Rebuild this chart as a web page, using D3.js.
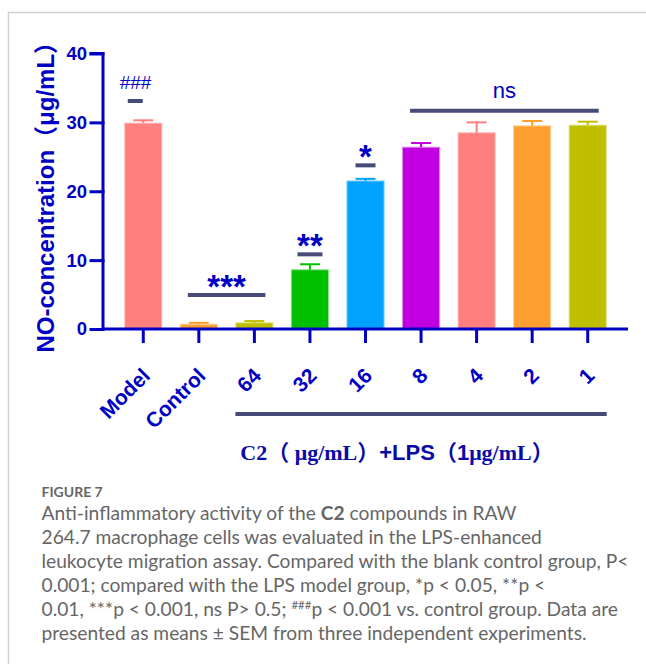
<!DOCTYPE html>
<html>
<head>
<meta charset="utf-8">
<script src="https://cdn.jsdelivr.net/npm/d3@7"></script>
<style>
  html, body { margin: 0; padding: 0; background: #fff; }
  svg { display: block; }
</style>
</head>
<body>
<svg id="chart" width="646" height="664"></svg>
<script>
// ---- data ----
const categories = ["Model", "Control", "64", "32", "16", "8", "4", "2", "1"];
const meanNO     = [29.9, 0.7, 0.9, 8.6, 21.5, 26.4, 28.5, 29.5, 29.6];
const semNO      = [0.4, 0.2, 0.25, 0.8, 0.3, 0.6, 1.5, 0.7, 0.5];
const barColors  = ["#ff7f7f", "#ff9e2e", "#bfbf00", "#00bf00", "#00a2ff", "#c000e0", "#ff7f7f", "#ff9f2f", "#bfbf00"];
const yTickValues = [0, 10, 20, 30, 40];

// significance annotations: text, first and last group covered, bar level (µg/mL)
const sigLabels = ["###", "***", "**", "*", "ns"];
const sigFrom   = ["Model", "Control", "32", "16", "8"];
const sigTo     = ["Model", "64", "32", "16", "1"];
const sigLevel  = [33.1, 4.93, 10.84, 23.76, 31.68];

const captionTitle = "FIGURE 7";
const captionLines = [
  [["Anti-inflammatory activity of the ", ""], ["C2", "b"], [" compounds in RAW", ""]],
  [["264.7 macrophage cells was evaluated in the LPS-enhanced", ""]],
  [["leukocyte migration assay. Compared with the blank control group, P<", ""]],
  [["0.001; compared with the LPS model group, *p < 0.05, **p <", ""]],
  [["0.01, ***p < 0.001, ns P> 0.5; ", ""], ["###", "sup"], ["p < 0.001 vs. control group. Data are", "down"]],
  [["presented as means ", ""], ["±", ""], [" SEM from three independent experiments.", ""]]
];

// ---- layout ----
const svg = d3.select("#chart");
const blue = "#0000c4";
const sigColor = "#474b78";
const sansBold = "'Liberation Sans', Arial, 'Noto Sans CJK SC', sans-serif";
const serifBold = "'Liberation Serif', 'Times New Roman', 'Noto Sans CJK SC', serif";

const x0 = 103, x1 = 628;
const x = d3.scaleBand().domain(categories).range([x0, x1])
  .paddingInner(0.33).paddingOuter(0.39);
const y = d3.scaleLinear().domain([0, 40]).range([329, 53.5]);
const cx = c => x(c) + x.bandwidth() / 2;

// panel frame
svg.append("path")
  .attr("d", "M8.5,664 V12.5 H646")
  .attr("fill", "none").attr("stroke", "#d2d2d2").attr("stroke-width", 1.5);

// bars
const g = svg.append("g");
g.selectAll("rect.bar").data(categories).join("rect")
  .attr("class", "bar")
  .attr("x", d => x(d))
  .attr("width", x.bandwidth())
  .attr("y", (d, i) => y(meanNO[i]))
  .attr("height", (d, i) => y(0) - y(meanNO[i]))
  .attr("fill", (d, i) => barColors[i])
  .attr("stroke", (d, i) => d3.interpolateRgb(barColors[i], "#ffffff")(0.55))
  .attr("stroke-width", 1);

// error bars (upper whisker)
const capHalf = 10;
const eb = g.selectAll("g.err").data(categories).join("g").attr("class", "err");
eb.append("line")
  .attr("x1", d => cx(d)).attr("x2", d => cx(d))
  .attr("y1", (d, i) => y(meanNO[i]))
  .attr("y2", (d, i) => y(meanNO[i] + semNO[i]))
  .attr("stroke", (d, i) => barColors[i]).attr("stroke-width", 2);
eb.append("line")
  .attr("x1", d => cx(d) - capHalf).attr("x2", d => cx(d) + capHalf)
  .attr("y1", (d, i) => y(meanNO[i] + semNO[i]))
  .attr("y2", (d, i) => y(meanNO[i] + semNO[i]))
  .attr("stroke", (d, i) => barColors[i]).attr("stroke-width", 2);

// axes
const yAxis = d3.axisLeft(y).tickValues(yTickValues).tickSize(12).tickPadding(4);
const yG = svg.append("g").attr("transform", `translate(${x0},0)`).call(yAxis);
yG.select(".domain").attr("d", `M-12,${y(40)}H0V${y(0)}`);
yG.selectAll(".domain, .tick line").attr("stroke", blue).attr("stroke-width", 3)
  .attr("stroke-linecap", "square");
yG.selectAll(".tick text")
  .attr("fill", blue).attr("font-family", sansBold)
  .attr("font-weight", "bold").attr("font-size", 18.5);

const xAxis = d3.axisBottom(x).tickSize(14).tickFormat("");
const xG = svg.append("g").attr("transform", `translate(0,${y(0)})`).call(xAxis);
xG.select(".domain").attr("d", `M${x0},0H${x1}`);
xG.selectAll(".domain, .tick line").attr("stroke", blue).attr("stroke-width", 3);

// rotated category labels
svg.append("g").selectAll("text").data(categories).join("text")
  .attr("transform", d => `translate(${cx(d) + 8},${y(0) + 48}) rotate(-45)`)
  .attr("text-anchor", "end")
  .attr("fill", blue).attr("font-family", sansBold)
  .attr("font-weight", "bold").attr("font-size", 21)
  .text(d => d);

// y-axis title
svg.append("text")
  .attr("transform", `translate(54,${(y(0) + y(40)) / 2}) rotate(-90)`)
  .attr("text-anchor", "middle")
  .attr("fill", blue).attr("font-family", sansBold)
  .attr("font-weight", "bold").attr("font-size", 24)
  .text("NO-concentration（μg/mL）");

// treatment group bar and label
const grpL = cx("64") - 19, grpR = cx("1") + 19;
svg.append("line")
  .attr("x1", grpL).attr("x2", grpR).attr("y1", 414).attr("y2", 414)
  .attr("stroke", sigColor).attr("stroke-width", 4);
const grpText = svg.append("text")
  .attr("x", 397).attr("y", 460)
  .attr("text-anchor", "middle").attr("fill", "#0a0aa8")
  .attr("font-weight", "bold").attr("font-size", 22);
grpText.append("tspan").attr("font-family", serifBold).text("C2（ μg/mL）");
grpText.append("tspan").attr("font-family", sansBold).text("+LPS（1");
grpText.append("tspan").attr("font-family", serifBold).text("μg/mL）");

// significance marks
const sigHalf = { "###": 7.5, "**": 12.5, "*": 10 };
const sigDx = { "###": -8 };
sigLabels.forEach((lab, i) => {
  const a = sigFrom[i], b = sigTo[i];
  const dx = sigDx[lab] || 0;
  let l, r;
  if (a === b) { l = cx(a) + dx - sigHalf[lab]; r = cx(a) + dx + sigHalf[lab]; }
  else { l = cx(a) - 11; r = cx(b) + 11; }
  const yy = y(sigLevel[i]);
  svg.append("line").attr("x1", l).attr("x2", r).attr("y1", yy).attr("y2", yy)
    .attr("stroke", sigColor).attr("stroke-width", 4);
  const t = svg.append("text").attr("x", (l + r) / 2).attr("text-anchor", "middle")
    .attr("fill", blue).text(lab);
  if (lab === "###") {
    t.attr("y", yy - 12.5).attr("font-family", "'Liberation Sans', Arial, sans-serif")
      .attr("font-style", "italic").attr("font-size", 19);
  } else if (lab === "ns") {
    t.attr("y", yy - 13).attr("font-family", "'Liberation Sans', Arial, sans-serif")
      .attr("font-size", 22);
  } else {
    t.attr("y", yy + 3).attr("font-family", sansBold)
      .attr("font-weight", "bold").attr("font-size", 33);
  }
});

// caption
const capX = 41.5;
const cap = svg.append("g").attr("font-family", "Lato, 'Open Sans', sans-serif").attr("fill", "#666");
cap.append("text").attr("x", capX).attr("y", 497)
  .attr("font-weight", "bold").attr("font-size", 14).text(captionTitle);
captionLines.forEach((parts, k) => {
  const t = cap.append("text").attr("x", capX).attr("y", 520 + 24 * k).attr("font-size", 19.2);
  parts.forEach(([s, kind]) => {
    const sp = t.append("tspan").text(s);
    if (kind === "b") sp.attr("font-weight", "bold");
    if (kind === "sup") sp.attr("font-size", 11.5).attr("dy", -7);
    if (kind === "down") sp.attr("dy", 7);
  });
});
</script>
</body>
</html>
